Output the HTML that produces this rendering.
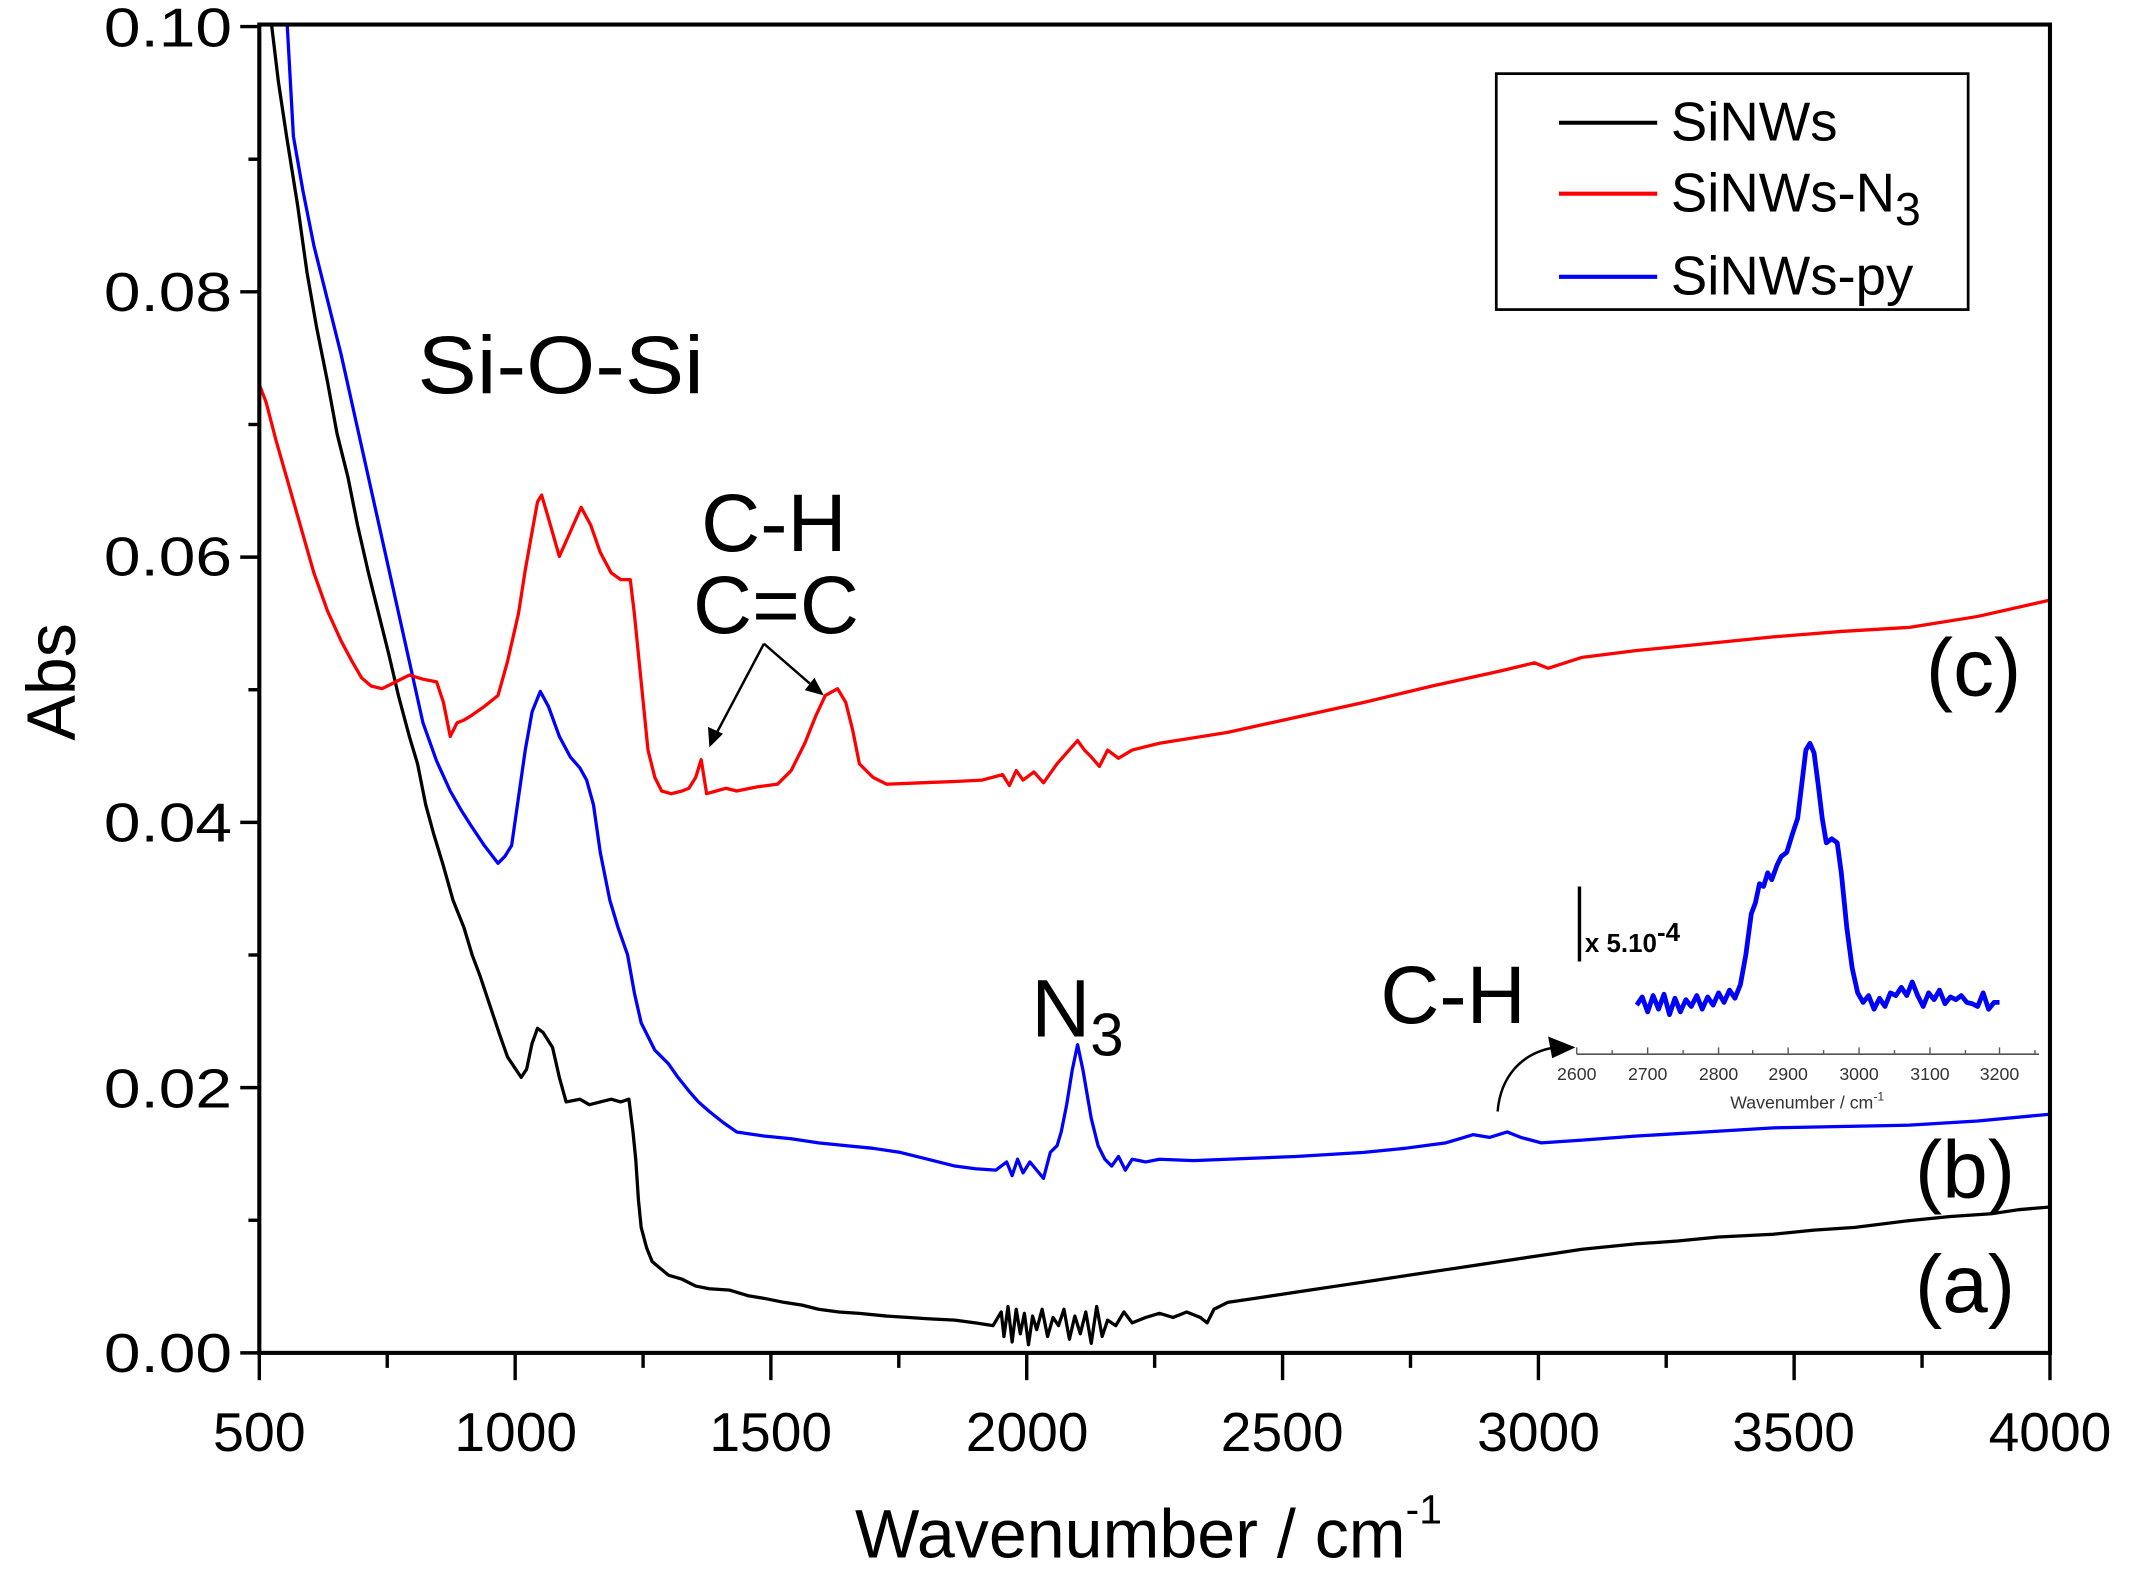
<!DOCTYPE html>
<html><head><meta charset="utf-8"><style>
html,body{margin:0;padding:0;background:#fff}
svg{display:block}
text{font-family:"Liberation Sans",Arial,sans-serif}
</style></head><body>
<svg width="2132" height="1582" viewBox="0 0 1563 1160" xmlns="http://www.w3.org/2000/svg">
<rect width="1563" height="1160" fill="#fff"/>
<defs><clipPath id="pc"><rect x="190" y="18" width="1313" height="974"/></clipPath></defs>
<g clip-path="url(#pc)" fill="none" stroke-linejoin="round" stroke-width="2.4">
<polyline stroke="#000" points="198,10 204,60 210,100 218,150 225,200 232,240 240,280 247,318 255,350 262,385 270,420 278,452 285,480 292,510 300,540 306,560 312,590 318,612 325,635 332,660 340,680 346,700 352,716 360,740 366,758 372,775 378,784 382,790 386,784 390,765 394,754 398,757 405,768 410,790 415,808 425,806 432,810 440,808 448,806 455,808 461,806 464,830 466,850 468,880 470,900 474,915 478,925 484,930 490,935 500,938 510,943 520,945 535,946 548,950 560,952 575,955 588,957 600,960 615,962 630,963 650,965 665,966 680,967 700,968 715,970 728,972 734,962 736,980 739,958 742,984 745,960 748,978 751,963 754,986 757,965 760,975 764,960 768,980 772,966 776,972 780,960 784,982 788,965 792,978 796,962 800,985 804,958 808,980 812,968 818,972 824,962 830,970 840,966 850,963 860,966 870,962 880,966 885,970 890,960 900,955 920,952 940,949 960,946 980,943 1000,940 1020,937 1040,934 1060,931 1080,928 1100,925 1120,922 1140,919 1160,916 1180,914 1200,912 1230,910 1260,907 1300,905 1330,902 1360,900 1400,895 1430,892 1460,890 1480,887 1503,885"/>
<polyline stroke="#00f" points="210,10 215,100 222,140 230,180 240,220 250,260 260,305 270,350 280,395 290,440 300,485 310,530 320,558 330,580 338,594 345,605 355,620 365,633 370,628 375,620 380,585 385,550 390,522 396,507 402,518 410,540 418,555 425,563 430,572 435,590 440,625 447,660 453,680 460,700 465,728 470,750 475,760 480,770 485,775 490,780 497,790 505,800 512,808 520,815 530,823 540,830 560,833 580,835 600,838 620,840 640,842 660,845 680,850 700,855 715,857 730,858 738,852 742,862 746,850 750,860 755,852 760,858 765,864 770,845 775,840 778,830 782,810 786,785 790,766 794,785 800,820 805,840 810,850 815,855 820,848 825,858 830,850 840,852 850,850 875,851 900,850 950,848 1000,845 1030,842 1060,838 1070,835 1080,832 1092,834 1105,830 1115,834 1130,838 1160,836 1200,833 1250,830 1300,827 1350,826 1400,825 1450,822 1503,817"/>
<polyline stroke="#f00" points="190,282 195,295 202,322 210,350 220,385 230,420 240,448 250,470 258,485 265,497 272,503 280,505 290,500 300,495 310,498 320,500 325,515 330,540 335,530 340,528 345,525 355,518 365,510 372,485 380,450 385,418 390,390 394,368 397,363 402,380 410,408 418,390 426,372 433,385 440,405 448,420 455,425 462,425 465,450 468,480 472,520 475,550 480,570 485,580 492,582 500,580 505,578 510,570 514,557 518,582 525,580 532,578 540,580 555,577 570,575 580,565 590,545 598,525 605,510 614,505 620,515 625,535 630,560 640,570 650,575 675,574 700,573 720,572 735,568 740,576 745,565 750,572 758,566 765,574 775,560 782,552 790,543 795,550 800,555 806,562 812,550 820,556 830,550 850,545 875,541 900,537 950,526 1000,515 1050,503 1100,492 1125,486 1135,490 1160,482 1200,477 1250,472 1300,467 1350,463 1400,460 1450,452 1503,440"/>
</g>
<rect x="190" y="18" width="1313" height="974" fill="none" stroke="#000" stroke-width="3"/>
<g stroke="#000" stroke-width="2.5">
<line x1="190" y1="992" x2="190" y2="1012"/><line x1="283.8" y1="992" x2="283.8" y2="1003"/>
<line x1="377.6" y1="992" x2="377.6" y2="1012"/><line x1="471.4" y1="992" x2="471.4" y2="1003"/>
<line x1="565.1" y1="992" x2="565.1" y2="1012"/><line x1="658.9" y1="992" x2="658.9" y2="1003"/>
<line x1="752.7" y1="992" x2="752.7" y2="1012"/><line x1="846.5" y1="992" x2="846.5" y2="1003"/>
<line x1="940.3" y1="992" x2="940.3" y2="1012"/><line x1="1034.1" y1="992" x2="1034.1" y2="1003"/>
<line x1="1127.9" y1="992" x2="1127.9" y2="1012"/><line x1="1221.6" y1="992" x2="1221.6" y2="1003"/>
<line x1="1315.4" y1="992" x2="1315.4" y2="1012"/><line x1="1409.2" y1="992" x2="1409.2" y2="1003"/>
<line x1="1503" y1="992" x2="1503" y2="1012"/>
<line x1="176" y1="992" x2="190" y2="992"/><line x1="182" y1="894.75" x2="190" y2="894.75"/>
<line x1="176" y1="797.5" x2="190" y2="797.5"/><line x1="182" y1="700.25" x2="190" y2="700.25"/>
<line x1="176" y1="603" x2="190" y2="603"/><line x1="182" y1="505.75" x2="190" y2="505.75"/>
<line x1="176" y1="408.5" x2="190" y2="408.5"/><line x1="182" y1="311.25" x2="190" y2="311.25"/>
<line x1="176" y1="214" x2="190" y2="214"/><line x1="182" y1="116.75" x2="190" y2="116.75"/>
<line x1="176" y1="19.5" x2="190" y2="19.5"/>
</g>
<g font-size="40" text-anchor="end">
<text x="170" y="1006" textLength="94" lengthAdjust="spacingAndGlyphs">0.00</text>
<text x="170" y="812" textLength="94" lengthAdjust="spacingAndGlyphs">0.02</text>
<text x="170" y="617" textLength="94" lengthAdjust="spacingAndGlyphs">0.04</text>
<text x="170" y="422" textLength="94" lengthAdjust="spacingAndGlyphs">0.06</text>
<text x="170" y="228" textLength="94" lengthAdjust="spacingAndGlyphs">0.08</text>
<text x="170" y="34" textLength="94" lengthAdjust="spacingAndGlyphs">0.10</text>
</g>
<g font-size="40" text-anchor="middle">
<text x="190" y="1064" textLength="68" lengthAdjust="spacingAndGlyphs">500</text>
<text x="378" y="1064" textLength="90" lengthAdjust="spacingAndGlyphs">1000</text>
<text x="565" y="1064" textLength="90" lengthAdjust="spacingAndGlyphs">1500</text>
<text x="753" y="1064" textLength="90" lengthAdjust="spacingAndGlyphs">2000</text>
<text x="940" y="1064" textLength="90" lengthAdjust="spacingAndGlyphs">2500</text>
<text x="1128" y="1064" textLength="90" lengthAdjust="spacingAndGlyphs">3000</text>
<text x="1315" y="1064" textLength="90" lengthAdjust="spacingAndGlyphs">3500</text>
<text x="1503" y="1064" textLength="90" lengthAdjust="spacingAndGlyphs">4000</text>
</g>
<text x="842" y="1142" font-size="50" text-anchor="middle">Wavenumber / cm<tspan dy="-25" font-size="30">-1</tspan></text>
<text transform="translate(55,500) rotate(-90)" font-size="50" text-anchor="middle">Abs</text>
<rect x="1097" y="54" width="346" height="173" fill="#fff" stroke="#000" stroke-width="2"/>
<line x1="1143" y1="90" x2="1215" y2="90" stroke="#000" stroke-width="3"/>
<line x1="1143" y1="142" x2="1215" y2="142" stroke="#f00" stroke-width="3"/>
<line x1="1143" y1="203" x2="1215" y2="203" stroke="#00f" stroke-width="3"/>
<g font-size="40">
<text x="1225" y="103">SiNWs</text>
<text x="1225" y="155">SiNWs-N<tspan dy="10" font-size="34">3</tspan></text>
<text x="1225" y="216">SiNWs-py</text>
</g>
<g font-size="60">
<text x="306" y="288" textLength="210" lengthAdjust="spacingAndGlyphs">Si-O-Si</text>
<text x="514" y="404">C-H</text>
<text x="508" y="464">C=C</text>
<text x="756" y="760">N<tspan dy="14" font-size="44">3</tspan></text>
<text x="1012" y="750">C-H</text>
<text x="1412" y="510">(c)</text>
<text x="1404" y="878">(b)</text>
<text x="1404" y="962">(a)</text>
</g>
<g stroke="#000" stroke-width="1.8" fill="none">
<polyline points="560,472 524,540"/>
<polyline points="560,472 598,505"/>
<path d="M1098,815 C1100,790 1115,772 1140,768"/>
</g>
<g fill="#000">
<polygon points="520,548 519,533 530,538"/>
<polygon points="604,510 590,506 597,497"/>
<polygon points="1155,768 1135,760 1138,776"/>
</g>
<line x1="1156" y1="773" x2="1495" y2="773" stroke="#555" stroke-width="1.2"/>
<g stroke="#555" stroke-width="1">
<line x1="1156" y1="773" x2="1156" y2="768"/><line x1="1182" y1="773" x2="1182" y2="770"/>
<line x1="1208" y1="773" x2="1208" y2="768"/><line x1="1234" y1="773" x2="1234" y2="770"/>
<line x1="1260" y1="773" x2="1260" y2="768"/><line x1="1285" y1="773" x2="1285" y2="770"/>
<line x1="1311" y1="773" x2="1311" y2="768"/><line x1="1337" y1="773" x2="1337" y2="770"/>
<line x1="1363" y1="773" x2="1363" y2="768"/><line x1="1389" y1="773" x2="1389" y2="770"/>
<line x1="1415" y1="773" x2="1415" y2="768"/><line x1="1441" y1="773" x2="1441" y2="770"/>
<line x1="1466" y1="773" x2="1466" y2="768"/><line x1="1492" y1="773" x2="1492" y2="770"/>
</g>
<line x1="1158" y1="650" x2="1158" y2="705" stroke="#000" stroke-width="2.5"/>
<text x="1162" y="698" font-size="19" font-weight="bold">x 5.10<tspan dy="-8">-4</tspan></text>
<g font-size="13" text-anchor="middle" fill="#333">
<text x="1156" y="792">2600</text><text x="1208" y="792">2700</text><text x="1260" y="792">2800</text>
<text x="1311" y="792">2900</text><text x="1363" y="792">3000</text><text x="1415" y="792">3100</text><text x="1466" y="792">3200</text>
<text x="1325" y="813">Wavenumber / cm<tspan dy="-6" font-size="9">-1</tspan></text>
</g>
<polyline fill="none" stroke="#00f" stroke-width="3.5" stroke-linejoin="round" points="1200,737 1204,731 1208,742 1212,730 1216,740 1220,729 1224,744 1228,732 1232,742 1236,733 1240,738 1244,730 1248,740 1252,731 1256,737 1260,728 1264,735 1268,726 1272,732 1276,722 1280,700 1284,670 1287,662 1290,648 1293,650 1296,640 1299,645 1303,634 1306,628 1310,625 1314,612 1318,600 1321,575 1324,550 1327,545 1330,552 1333,575 1336,600 1339,618 1343,615 1347,618 1350,640 1354,680 1358,710 1362,728 1366,735 1370,730 1374,740 1378,732 1382,738 1386,728 1390,730 1394,724 1398,730 1402,720 1406,730 1410,738 1414,728 1418,733 1422,726 1426,736 1430,731 1434,733 1438,730 1442,735 1446,736 1450,738 1454,728 1458,740 1462,735 1466,735"/>
</svg>
</body></html>
